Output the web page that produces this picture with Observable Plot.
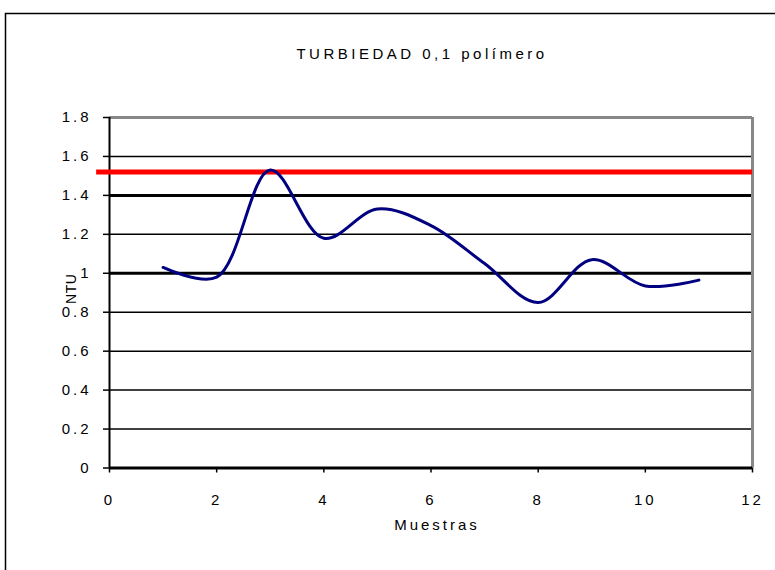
<!DOCTYPE html>
<html>
<head>
<meta charset="utf-8">
<script src="https://cdn.jsdelivr.net/npm/d3@7"></script>
<script src="https://cdn.jsdelivr.net/npm/@observablehq/plot@0.6"></script>
<style>
  html, body { margin: 0; padding: 0; background: #fff; }
  #chart { width: 775px; height: 570px; overflow: hidden; }
  #chart svg text { letter-spacing: 3px; }
</style>
</head>
<body>
<div id="chart"></div>
<script>
const title = "TURBIEDAD 0,1 polímero";
const xLabel = "Muestras";
const yLabel = "NTU";
const muestras = [1, 2, 3, 4, 5, 6, 7, 8, 9, 10, 11];
const ntu = [1.03, 0.98, 1.53, 1.18, 1.33, 1.245, 1.05, 0.85, 1.07, 0.935, 0.965];
const limite = 1.52;
const xTicks = [0, 2, 4, 6, 8, 10, 12];
const yTicks = [0, 0.2, 0.4, 0.6, 0.8, 1, 1.2, 1.4, 1.6, 1.8];
const thinGrid = [0.2, 0.4, 0.6, 0.8, 1.2, 1.6];
const thickGrid = [1, 1.4];

const data = muestras.map((m, i) => ({x: m, y: ntu[i]}));
const fmt = d3.format("~g");

const chart = Plot.plot({
  width: 775,
  height: 570,
  marginLeft: 109,
  marginRight: 23,
  marginTop: 117,
  marginBottom: 102.5,
  style: {fontFamily: "'Liberation Sans', Arial, sans-serif", fontSize: "15px", background: "#fff", color: "#000"},
  x: {domain: [0, 12]},
  y: {domain: [0, 1.8]},
  marks: [
    Plot.frame({insetLeft: -104, insetTop: -104, insetRight: -60, insetBottom: -150, stroke: "#000", strokeWidth: 1.5}),
    Plot.ruleY(thinGrid, {stroke: "#000", strokeWidth: 1.5}),
    Plot.ruleY(thickGrid, {stroke: "#000", strokeWidth: 3}),
    Plot.ruleY([1.8], {stroke: "#888", strokeWidth: 3}),
    Plot.ruleX([12], {stroke: "#888", strokeWidth: 3}),
    Plot.ruleX([0], {stroke: "#000", strokeWidth: 2}),
    Plot.ruleY([0], {stroke: "#000", strokeWidth: 3}),
    Plot.axisY(yTicks, {tickSize: 6, tickPadding: 12, label: null, strokeWidth: 1.5, tickFormat: fmt, fontSize: 15}),
    Plot.axisX(xTicks, {tickSize: 5, tickPadding: 21, label: null, strokeWidth: 1.5, tickFormat: fmt, fontSize: 15}),
    Plot.ruleY([limite], {x1: -0.24, x2: 12, stroke: "#ff0000", strokeWidth: 5}),
    Plot.line(data, {x: "x", y: "y", curve: "catmull-rom", stroke: "#000080", strokeWidth: 3}),
    Plot.text([title], {frameAnchor: "top", dy: -69, dx: -9, fontSize: 15, textAnchor: "middle", className: "ttl"}),
    Plot.text([yLabel], {frameAnchor: "left", dx: -38, dy: -4, rotate: -90, fontSize: 14, textAnchor: "middle", className: "ylab"}),
    Plot.text([xLabel], {frameAnchor: "bottom", dy: 62, dx: 6, fontSize: 15, textAnchor: "middle"})
  ]
});
document.getElementById("chart").append(chart);
d3.select(chart).selectAll(".ttl text").style("letter-spacing", "3.5px");
d3.select(chart).selectAll(".ylab text").style("letter-spacing", "0.5px");
</script>
</body>
</html>
